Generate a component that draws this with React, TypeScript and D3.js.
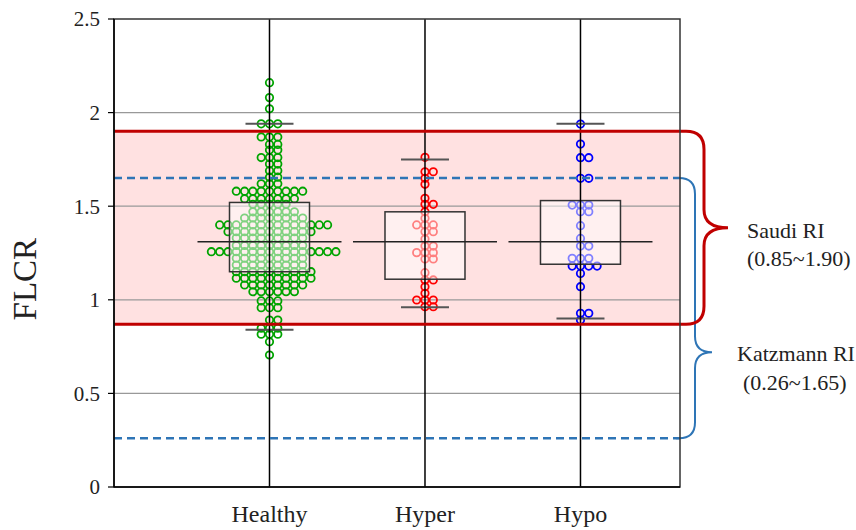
import React from "react";
import * as d3 from "d3";

// categories and group values (value level + number of dots at it)
const categories = ["Healthy", "Hyper", "Hypo"];
const dotColors = ["#00a400", "#ff0000", "#0000ff"];

const healthyLevels = [2.16, 2.08, 2.02, 1.94, 1.87, 1.83, 1.8, 1.76, 1.725, 1.69, 1.655, 1.62, 1.58, 1.54, 1.51, 1.47, 1.437, 1.4, 1.364, 1.33, 1.29, 1.257, 1.222, 1.186, 1.15, 1.115, 1.079, 1.043, 0.994, 0.958, 0.892, 0.848, 0.816, 0.776, 0.705];
const healthyCounts = [1, 1, 1, 3, 3, 2, 2, 3, 2, 2, 2, 3, 9, 7, 5, 6, 8, 14, 11, 9, 9, 16, 9, 9, 10, 10, 8, 6, 3, 3, 2, 3, 3, 1, 1];

const hyperLevels = [1.761, 1.684, 1.649, 1.617, 1.542, 1.51, 1.47, 1.435, 1.4, 1.364, 1.325, 1.287, 1.252, 1.218, 1.145, 1.106, 1.07, 1.035, 0.999, 0.963];
const hyperCounts = [1, 2, 1, 1, 1, 2, 1, 1, 3, 2, 1, 2, 3, 2, 1, 2, 1, 1, 3, 2];

const hypoLevels = [1.939, 1.832, 1.759, 1.649, 1.506, 1.471, 1.396, 1.328, 1.287, 1.222, 1.18, 1.141, 1.07, 0.928, 0.892];
const hypoCounts = [1, 1, 2, 2, 3, 2, 1, 1, 2, 3, 4, 1, 1, 2, 1];

// box plot stats per category
const boxMax = [1.94, 1.75, 1.94];
const boxQ3 = [1.52, 1.47, 1.53];
const boxMedian = [1.31, 1.31, 1.31];
const boxQ1 = [1.15, 1.11, 1.19];
const boxMin = [0.84, 0.96, 0.9];

// reference intervals
const saudiRange = [0.87, 1.9];
const katzmannRange = [0.26, 1.65];
const yTicks = [0, 0.5, 1, 1.5, 2, 2.5];

const W = 856;
const H = 530;
const FONT = "'Liberation Serif', 'Times New Roman', serif";

// brace from plot edge: top line, outward bend, tip, back
function bracePath(x0: number, yTop: number, yBot: number, yTip: number, w: number, tip: number, r: number) {
  const x1 = x0 + w;
  const p = d3.path();
  p.moveTo(x0, yTop);
  p.lineTo(x1 - r, yTop);
  p.quadraticCurveTo(x1, yTop, x1, yTop + r);
  p.lineTo(x1, yTip - r);
  p.quadraticCurveTo(x1, yTip, x1 + tip, yTip);
  p.quadraticCurveTo(x1, yTip, x1, yTip + r);
  p.lineTo(x1, yBot - r);
  p.quadraticCurveTo(x1, yBot, x1 - r, yBot);
  p.lineTo(x0, yBot);
  return p.toString();
}

export default function App() {
  const x = d3.scaleLinear().domain([0, 3.64]).range([114, 680]);
  const y = d3.scaleLinear().domain([0, 2.5]).range([487, 19]);
  const step = 8.3;

  const groups = [
    [healthyLevels, healthyCounts],
    [hyperLevels, hyperCounts],
    [hypoLevels, hypoCounts],
  ];

  // stack equal values side by side: 0, +1, -1, +2, -2 ...
  const dots: { cx: number; cy: number; color: string }[] = [];
  groups.forEach(([levels, counts], g) => {
    levels.forEach((v, i) => {
      for (let k = 0; k < counts[i]; k++) {
        const off = k === 0 ? 0 : k % 2 === 1 ? (k + 1) / 2 : -k / 2;
        dots.push({ cx: x(g + 1) + off * step, cy: y(v), color: dotColors[g] });
      }
    });
  });

  const x0 = x.range()[0];
  const x1 = x.range()[1];

  return (
    <svg width={W} height={H} style={{ position: "absolute", left: 0, top: 0, background: "#fff" }} fontFamily={FONT}>
      {/* Saudi band */}
      <rect x={x0} y={y(saudiRange[1])} width={x1 - x0} height={y(saudiRange[0]) - y(saudiRange[1])} fill="#ffe1e1" />

      {/* horizontal gridlines */}
      {yTicks.filter((t) => t > 0 && t < 2.5).map((t) => (
        <line key={t} x1={x0} x2={x1} y1={y(t)} y2={y(t)} stroke="#999" strokeWidth={1.3} />
      ))}

      {/* dots */}
      {dots.map((d, i) => (
        <circle key={i} cx={d.cx} cy={d.cy} r={3.7} fill="none" stroke={d.color} strokeWidth={1.8} />
      ))}

      {/* boxes */}
      {categories.map((c, i) => (
        <g key={c}>
          <rect x={x(i + 1) - 40} y={y(boxQ3[i])} width={80} height={y(boxQ1[i]) - y(boxQ3[i])} fill="#fff" fillOpacity={0.5} stroke="#333" strokeWidth={1.5} />
          <line x1={x(i + 1) - 72} x2={x(i + 1) + 72} y1={y(boxMedian[i])} y2={y(boxMedian[i])} stroke="#222" strokeWidth={1.3} />
          <line x1={x(i + 1) - 24} x2={x(i + 1) + 24} y1={y(boxMax[i])} y2={y(boxMax[i])} stroke="#555" strokeWidth={2} />
          <line x1={x(i + 1) - 24} x2={x(i + 1) + 24} y1={y(boxMin[i])} y2={y(boxMin[i])} stroke="#555" strokeWidth={2} />
        </g>
      ))}

      {/* vertical category lines */}
      {categories.map((c, i) => (
        <line key={c} x1={x(i + 1)} x2={x(i + 1)} y1={y(2.5)} y2={y(0)} stroke="#000" strokeWidth={1.5} />
      ))}

      {/* Katzmann dashed limits + brace */}
      {katzmannRange.map((v) => (
        <line key={v} x1={x0} x2={x1} y1={y(v)} y2={y(v)} stroke="#2e75b6" strokeWidth={2.5} strokeDasharray="8,5" />
      ))}
      <path d={bracePath(x1 - 4, y(katzmannRange[1]), y(katzmannRange[0]), y(0.72), 19, 17, 16)} fill="none" stroke="#2e75b6" strokeWidth={2} />

      {/* Saudi limits + brace */}
      <path d={bracePath(x0, y(saudiRange[1]), y(saudiRange[0]), (y(saudiRange[0]) + y(saudiRange[1])) / 2, x1 - x0 + 24, 24, 18)} fill="none" stroke="#c00000" strokeWidth={3} />

      {/* plot frame */}
      <rect x={x0} y={y(2.5)} width={x1 - x0} height={y(0) - y(2.5)} fill="none" stroke="#333" strokeWidth={1.5} />
      <line x1={x0} x2={x0} y1={y(2.5)} y2={y(0)} stroke="#000" strokeWidth={1.5} />
      <line x1={x0} x2={x1} y1={y(0)} y2={y(0)} stroke="#000" strokeWidth={1.5} />

      {/* y axis ticks and labels */}
      {yTicks.map((t) => (
        <g key={t}>
          <line x1={x0 - 6} x2={x0} y1={y(t)} y2={y(t)} stroke="#000" strokeWidth={1.2} />
          <text x={x0 - 14} y={y(t)} dy="0.35em" textAnchor="end" fontSize={21} fill="#222">{t}</text>
        </g>
      ))}
      <text transform={`translate(36,${y(1.11)}) rotate(-90)`} textAnchor="middle" fontSize={33} fill="#222">FLCR</text>

      {/* category labels */}
      {categories.map((c, i) => (
        <text key={c} x={x(i + 1)} y={522} textAnchor="middle" fontSize={24} fill="#222">{c}</text>
      ))}

      {/* annotations */}
      <text x={747} y={238} fontSize={22} fill="#222">Saudi RI</text>
      <text x={747} y={266} fontSize={22} fill="#222">(0.85~1.90)</text>
      <text x={737} y={361} fontSize={22} fill="#222">Katzmann RI</text>
      <text x={743} y={390} fontSize={22} fill="#222">(0.26~1.65)</text>
    </svg>
  );
}
